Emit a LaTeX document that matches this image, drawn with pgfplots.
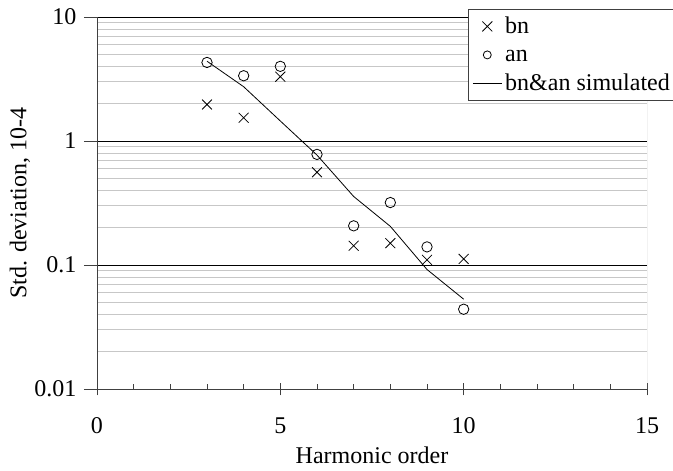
\documentclass[border=0pt]{standalone}
\usepackage{fontspec}
\setmainfont{Liberation Serif}
\usepackage{pgfplots}
\pgfplotsset{compat=1.18}

\begin{document}
\begin{tikzpicture}[font=\fontsize{24}{28}\selectfont]
\begin{axis}[
    scale only axis,
    width=550pt, height=372pt,
    ymode=log,
    xmin=0, xmax=15, ymin=0.01, ymax=10,
    axis x line=bottom, axis y line=left,
    axis line style={-, draw=black!75, line width=0.8pt},
    xtick={0,5,10,15}, xticklabels={0,5,10,15},
    ytick={0.01,0.1,1,10}, yticklabels={0.01,0.1,1,10},
    minor x tick num=4,
    xtick align=center, ytick align=outside,
    major tick length=13pt, minor tick length=5pt,
    tick style={black!75, line width=0.8pt},
    minor x tick style={yshift=2.5pt},
    minor y tick style={draw=none},
    ymajorgrids, yminorgrids,
    major grid style={black, line width=0.8pt},
    minor grid style={black!22, line width=0.8pt},
    xticklabel style={yshift=-19pt},
    yticklabel style={xshift=-4pt},
    xlabel={Harmonic order},
    ylabel={Std. deviation, 10-4},
    xlabel style={at={(rel axis cs:0.5,0)}, anchor=center, yshift=-66pt},
    ylabel style={at={(rel axis cs:0,0.5)}, anchor=center, yshift=77pt},
    legend image code/.code={
        \draw[mark repeat=2, mark phase=2, #1]
            plot coordinates {(0pt,0pt) (14.5pt,0pt) (29pt,0pt)};},
    legend style={at={(rel axis cs:0.6745,1.0215)}, anchor=north west,
        draw=black!75, line width=0.8pt, inner xsep=4pt, inner ysep=5pt,
        row sep=4.5pt, column sep=0pt,
        nodes={inner xsep=3pt, inner ysep=0pt, text height=19pt, text depth=5pt},
        font=\fontsize{24}{28}\selectfont},
    legend cell align=left,
]
\addplot[only marks, mark=x, mark size=7pt, black, line width=0.8pt] coordinates {
    (3,1.97) (4,1.54) (5,3.3) (6,0.56) (7,0.143) (8,0.150) (9,0.11) (10,0.112)
};
\addlegendentry{bn}
\addplot[only marks, mark=o, mark size=5.2pt, black, line width=0.8pt,
    legend image post style={mark size=4pt}] coordinates {
    (3,4.3) (4,3.36) (5,4.0) (6,0.78) (7,0.207) (8,0.319) (9,0.14) (10,0.044)
};
\addlegendentry{an}
\addplot[no marks, black, line width=0.8pt] coordinates {
    (3,4.4) (4,2.74) (5,1.45) (6,0.77) (7,0.357) (8,0.205) (9,0.092) (10,0.053)
};
\addlegendentry{bn\&an simulated}
\draw[black!40, line width=0.8pt] (rel axis cs:1,0) -- (rel axis cs:1,1);
\end{axis}
\pgfresetboundingbox
\path[use as bounding box] ([shift={(-97pt,-81pt)}]current axis.south west)
    rectangle ([shift={(26pt,17pt)}]current axis.north east);
\end{tikzpicture}
\end{document}
